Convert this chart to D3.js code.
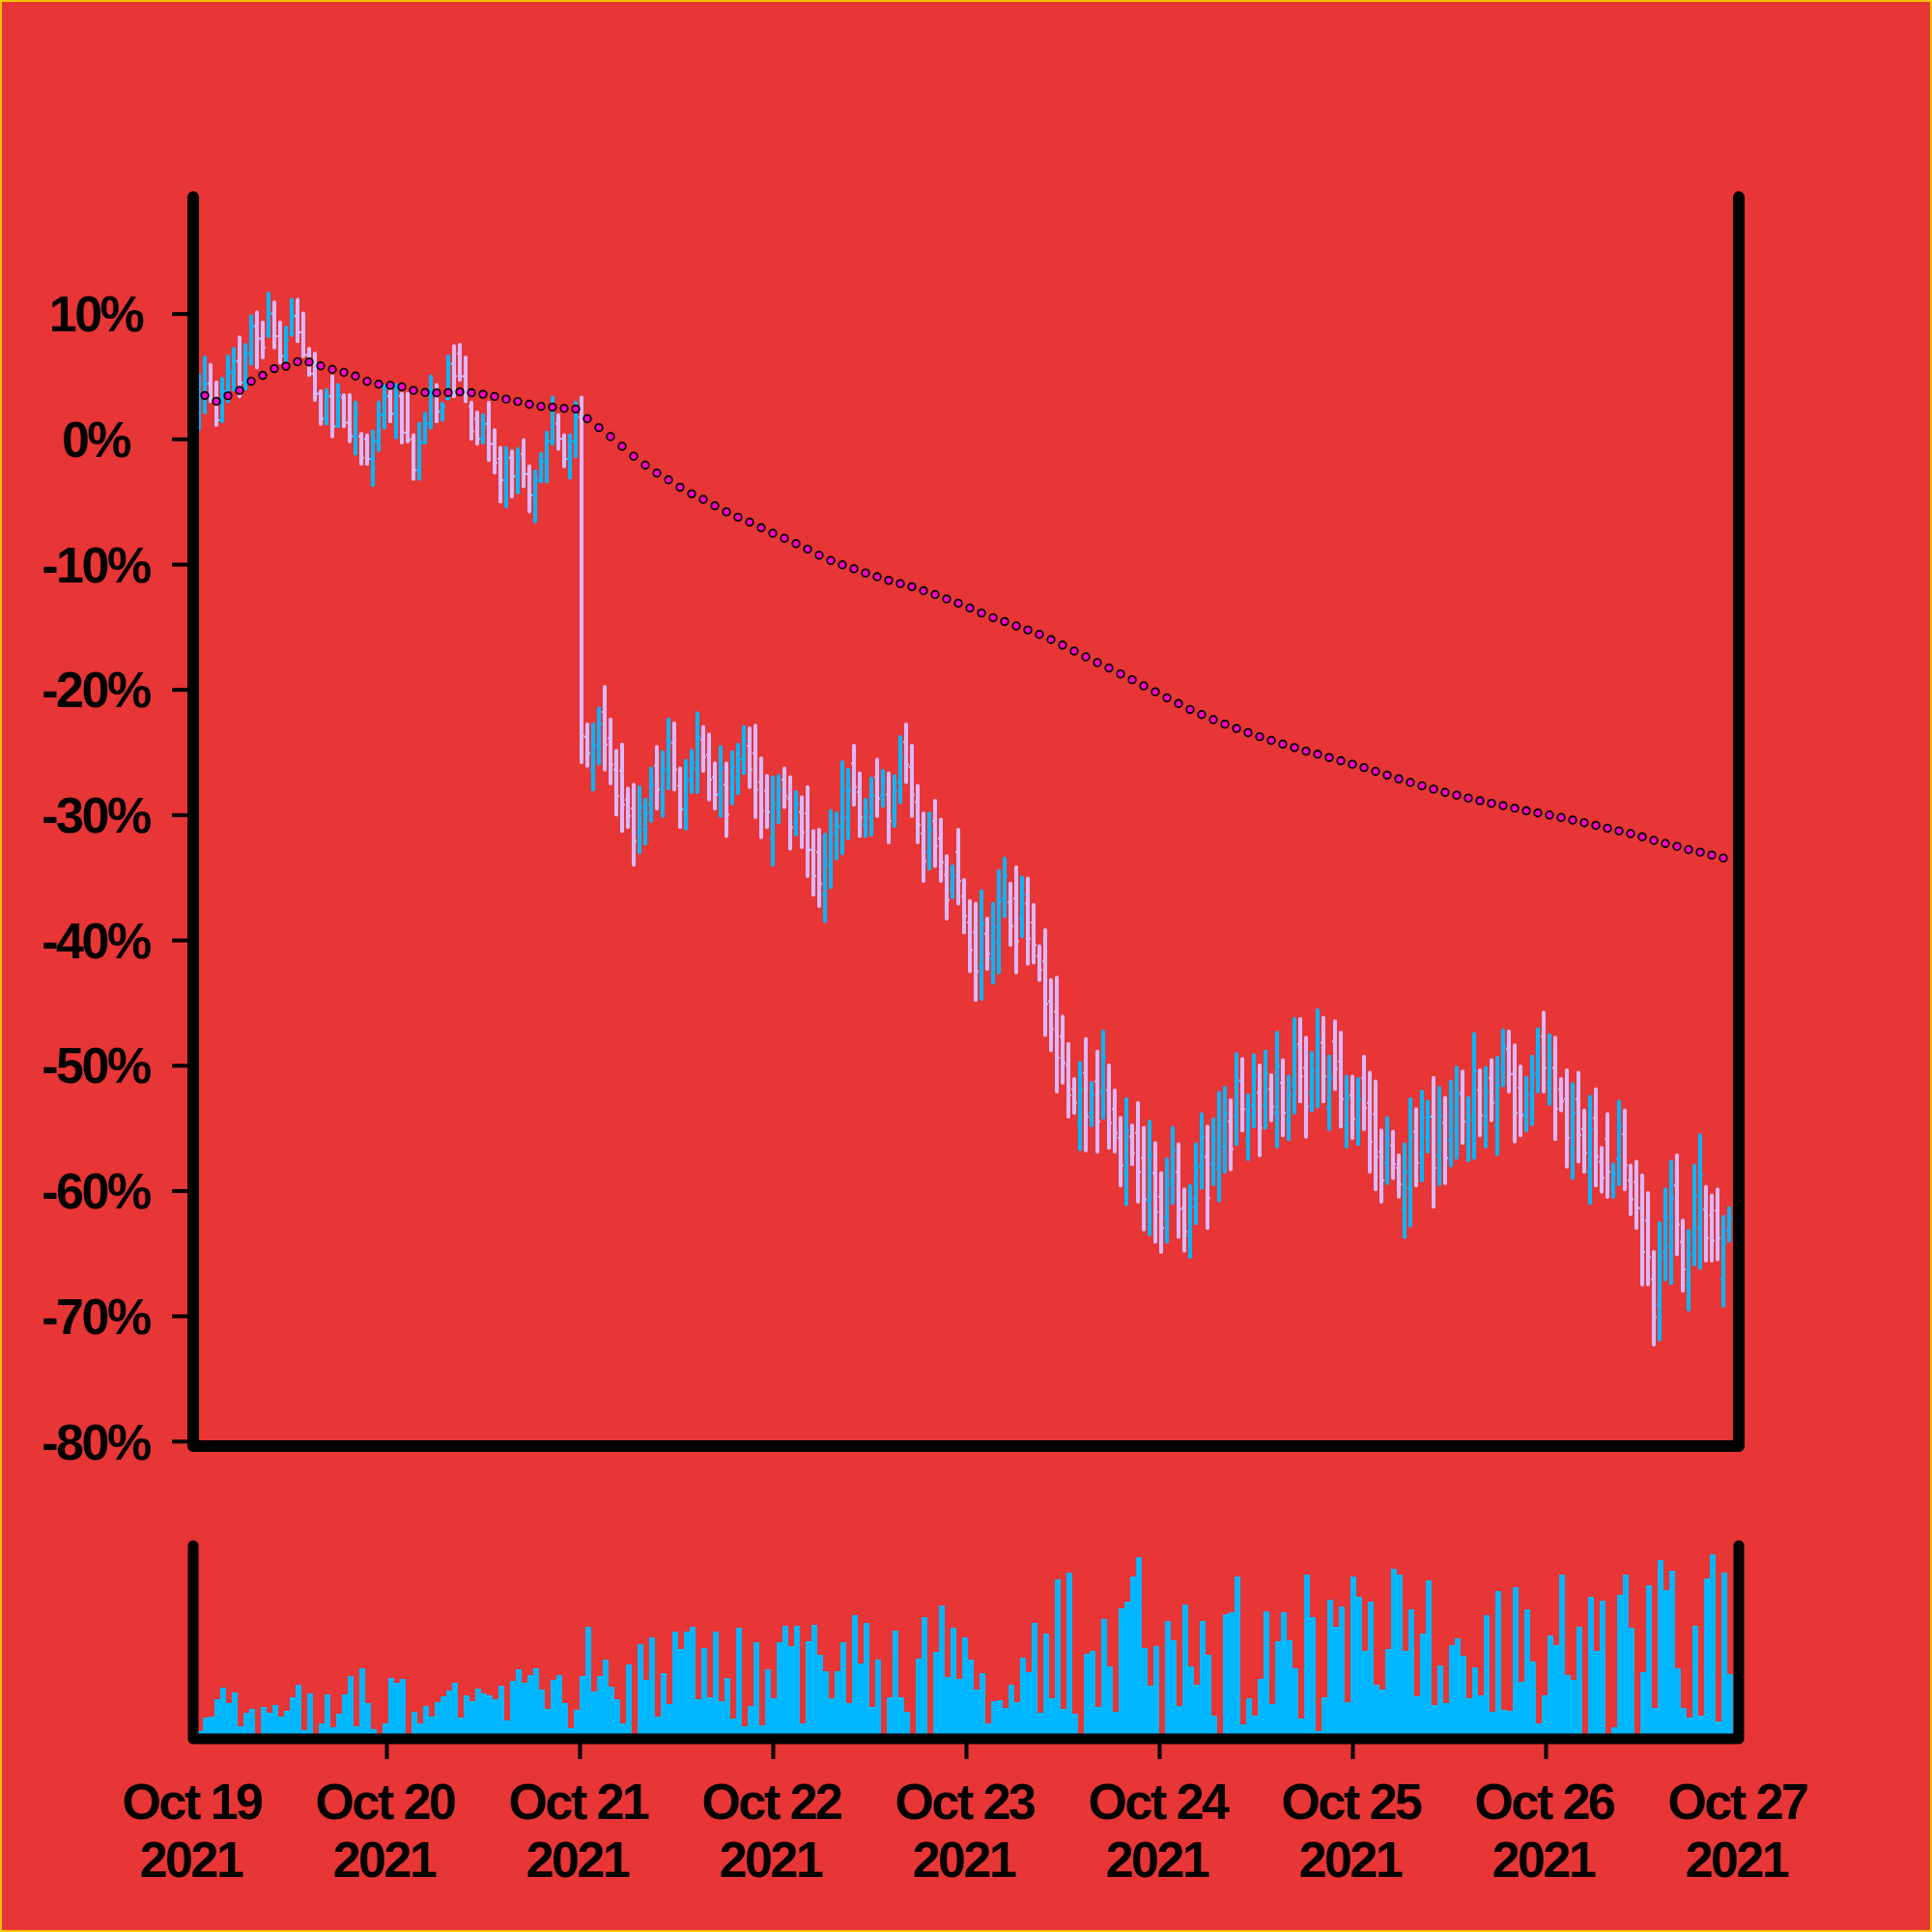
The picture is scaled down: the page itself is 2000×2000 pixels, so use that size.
<!DOCTYPE html>
<html>
<head>
<meta charset="utf-8">
<script src="https://cdn.jsdelivr.net/npm/d3@7"></script>
<style>
  html, body { margin: 0; padding: 0; background: #e83535; }
  svg { display: block; }
  text { font-family: "Liberation Sans", Arial, Helvetica, sans-serif; font-weight: bold; }
</style>
</head>
<body>
<svg id="chart" width="2000" height="2000"></svg>
<script>
// ---------------- DATA (percent change) ----------------
const seriesStart = Date.UTC(2021, 9, 19, 0, 0);   // Oct 19 2021
const barMinutes = 43.2;                           // spacing of the bars

const open = [
  2.0, 2.6, 3.4, 4.4, 3.1, 1.5, 3.8, 5.3, 6.2, 4.5,
  6.8, 9.0, 8.0, 8.4, 10.0, 8.2, 6.6, 8.4, 9.8, 8.5,
  6.7, 5.2, 3.6, 1.6, 3.4, 1.0, 3.3, 1.3, 0.2, 0.2,
  0.0, -1.6, -0.2, 1.9, 3.4, 2.0, 3.4, 0.5, 0.0, -2.5,
  -0.3, 1.2, 3.8, 2.2, 3.2, 6.0, 6.8, 5.0, 2.6, 1.6,
  0.0, 1.2, -0.4, -1.6, -3.3, -1.5, -3.0, -1.2, -2.8, -4.5,
  -3.3, -1.8, -0.2, 1.2, 0.0, -1.6, -0.2, 1.7,
  -23.8, -26.4, -24.6, -21.8, -23.9, -26.4, -26.5, -28.8, -29.5, -31.4, -31.2, -29.2,
  -26.1, -28.6, -26.3, -24.3, -27.7, -29.5, -27.2, -26.3, -24.0, -25.2,
  -27.0, -28.4, -27.6, -27.9, -27.1, -25.6, -24.5, -25.1, -27.4, -28.1,
  -31.9, -29.5, -27.2, -28.7, -30.6, -29.8, -29.9, -32.8, -33.0, -36.4,
  -34.0, -32.4, -30.9, -30.2, -25.9, -28.2, -30.8, -30.2, -27.0, -28.5,
  -28.4, -29.7, -27.4, -24.2, -26.2, -29.0, -31.5, -33.0, -30.5, -31.9,
  -34.8, -35.9, -33.0, -36.5, -38.6, -39.4, -42.1, -39.5, -41.5, -40.2,
  -36.7, -37.0, -36.7, -38.3, -37.1, -38.6, -41.3, -41.7, -44.9, -45.7,
  -47.7, -50.0, -51.9, -54.6, -50.6, -53.8, -51.3, -52.1, -52.0, -53.5,
  -55.8, -58.6, -55.7, -55.4, -57.4, -60.8, -58.6, -60.5, -62.1, -59.2,
  -58.5, -61.4, -63.6, -60.7, -58.0, -57.3, -57.9, -58.2, -56.5, -54.5,
  -54.1, -51.2, -56.0, -53.2, -52.2, -53.2, -51.9, -53.8, -51.4, -54.4,
  -51.6, -48.3, -50.2, -52.2, -51.0, -48.2, -53.4, -48.1, -49.7, -54.8,
  -52.4, -54.7, -51.0, -53.0, -53.9, -56.9, -57.8, -56.4, -58.2, -61.5,
  -59.8, -55.3, -57.1, -55.7, -54.1, -57.2, -54.6, -56.0, -55.2, -52.2,
  -56.1, -54.4, -52.0, -54.6, -51.0, -54.8, -50.3, -48.7, -50.7, -51.8,
  -53.9, -53.1, -50.6, -47.7, -51.4, -50.2, -51.9, -52.7, -56.7, -52.7,
  -55.1, -58.5, -54.2, -57.7, -55.9, -59.7, -57.5, -55.5, -59.2, -59.3,
  -61.4, -62.4, -67.1, -69.1, -64.9, -64.5, -59.6, -64.1, -67.6, -63.5,
  -63.0, -61.5, -62.0, -61.6, -67.1, -63.2
];

const high = [
  5.0, 5.1, 6.5, 5.9, 4.5, 4.8, 6.6, 7.2, 8.1, 7.5,
  9.8, 10.1, 9.3, 11.6, 10.9, 9.3, 8.9, 11.1, 11.1, 10.0,
  7.2, 6.8, 3.8, 3.9, 5.0, 4.3, 3.5, 3.5, 2.9, 0.4,
  0.3, 0.6, 2.9, 4.2, 4.2, 4.3, 3.6, 3.6, 0.3, 1.2,
  2.0, 5.0, 4.3, 2.8, 6.6, 7.4, 7.5, 6.5, 2.9, 2.1,
  1.9, 2.9, 0.7, -0.7, -0.7, -1.0, -0.8, -0.1, -2.2, -2.6,
  -1.2, 0.5, 3.3, 1.9, 0.3, 0.3, 2.9, 3.3,
  -22.8, -22.8, -21.5, -19.8, -22.4, -24.9, -24.4, -27.9, -27.6, -27.8, -28.8, -26.3,
  -24.6, -25.0, -22.4, -22.7, -26.3, -25.7, -24.9, -21.9, -23.0, -23.6,
  -25.9, -24.6, -25.9, -25.0, -24.4, -23.0, -23.1, -22.9, -25.5, -26.9,
  -27.0, -26.9, -26.3, -27.0, -28.2, -28.6, -27.8, -31.3, -31.2, -31.6,
  -29.7, -29.9, -25.8, -26.4, -24.5, -26.7, -28.8, -27.1, -25.6, -26.5,
  -26.7, -26.9, -23.8, -22.8, -24.5, -27.7, -29.9, -29.9, -28.9, -30.4,
  -33.3, -34.1, -31.2, -35.2, -36.9, -37.1, -36.1, -38.3, -37.1, -34.5,
  -33.5, -35.5, -34.2, -35.0, -35.1, -37.2, -40.5, -39.2, -43.2, -43.0,
  -46.1, -48.3, -51.1, -49.8, -47.9, -51.4, -48.9, -47.3, -50.0, -52.0,
  -54.2, -52.7, -54.8, -53.0, -55.0, -54.5, -56.2, -58.6, -57.5, -55.0,
  -56.3, -59.9, -59.6, -56.3, -53.9, -54.9, -54.3, -52.2, -51.8, -52.8,
  -49.1, -49.5, -52.4, -49.2, -50.0, -48.9, -50.8, -47.4, -49.6, -50.9,
  -46.3, -46.3, -47.8, -49.0, -45.6, -46.2, -49.3, -46.5, -47.4, -50.9,
  -50.9, -51.1, -49.3, -50.6, -51.3, -55.2, -54.2, -55.3, -57.2, -56.3,
  -52.7, -53.5, -52.1, -52.9, -51.0, -51.8, -52.6, -51.3, -50.2, -50.5,
  -52.6, -47.5, -50.4, -50.2, -49.6, -49.4, -47.2, -47.3, -48.4, -50.1,
  -51.0, -49.3, -47.1, -45.8, -47.6, -47.8, -51.1, -50.4, -51.5, -50.6,
  -53.6, -52.5, -51.9, -56.6, -53.9, -57.9, -52.9, -53.6, -58.0, -57.7,
  -58.8, -60.2, -64.9, -62.6, -59.9, -57.7, -57.2, -62.4, -63.2, -58.0,
  -55.6, -59.7, -60.4, -59.9, -62.1, -61.4
];

const low = [
  0.7, 0.8, 2.1, 3.0, 1.1, 1.4, 3.0, 3.9, 3.4, 4.0,
  6.0, 5.7, 6.5, 8.2, 7.3, 6.1, 5.9, 8.3, 7.8, 6.6,
  5.1, 3.1, 1.2, 1.2, 0.2, 1.0, 1.0, -0.2, -1.2, -2.0,
  -2.0, -3.7, -0.9, 0.9, 1.4, 0.1, -0.3, -0.2, -3.2, -3.2,
  -0.3, 0.9, 1.4, 1.5, 3.2, 3.4, 4.7, 3.0, 0.0, -0.4,
  -0.3, -1.7, -2.7, -5.0, -5.4, -4.6, -4.3, -3.8, -5.8, -6.6,
  -3.4, -3.4, -0.4, -0.8, -2.2, -3.1, -1.4, -25.8,
  -26.1, -28.0, -25.9, -26.4, -27.5, -30.0, -31.3, -31.0, -34.0, -33.0, -32.3, -30.5,
  -29.5, -30.1, -27.9, -28.0, -31.0, -31.1, -28.2, -28.2, -26.5, -28.8,
  -29.5, -30.1, -31.7, -29.1, -28.3, -26.7, -27.8, -30.2, -31.8, -31.0,
  -34.0, -30.6, -29.4, -32.7, -31.6, -32.6, -34.9, -36.4, -37.3, -38.5,
  -35.8, -33.5, -33.1, -31.9, -29.2, -31.7, -31.7, -31.6, -30.1, -29.3,
  -32.2, -30.9, -29.0, -27.4, -30.1, -32.2, -35.3, -34.3, -34.1, -35.3,
  -38.3, -36.6, -37.1, -39.4, -42.5, -44.8, -44.7, -42.3, -43.4, -42.6,
  -38.1, -40.4, -42.6, -39.7, -41.9, -41.8, -43.2, -47.6, -48.8, -52.1,
  -51.4, -54.1, -53.8, -56.7, -56.8, -54.8, -56.9, -54.2, -56.6, -56.9,
  -59.6, -61.1, -57.9, -60.9, -63.1, -63.5, -64.1, -64.9, -64.1, -61.0,
  -63.7, -64.8, -65.3, -62.6, -59.8, -63.0, -59.5, -60.8, -58.5, -58.3,
  -56.3, -55.2, -57.5, -54.9, -57.2, -55.0, -54.4, -56.5, -55.6, -55.9,
  -53.8, -52.9, -55.7, -53.6, -53.3, -52.9, -55.1, -51.9, -54.9, -56.5,
  -55.8, -56.3, -55.1, -58.5, -59.9, -60.9, -59.4, -59.0, -60.5, -63.7,
  -62.8, -59.6, -59.2, -56.9, -61.3, -59.5, -59.4, -58.0, -57.4, -56.2,
  -57.6, -57.4, -55.6, -56.5, -54.4, -57.1, -51.6, -52.1, -56.1, -55.6,
  -55.2, -54.7, -52.1, -52.1, -53.1, -55.9, -53.6, -58.1, -59.0, -57.7,
  -58.5, -61.0, -59.6, -60.1, -60.5, -60.5, -59.5, -59.9, -61.9, -63.0,
  -67.5, -67.5, -72.3, -71.9, -67.1, -67.4, -65.1, -68.0, -69.5, -65.9,
  -66.2, -65.6, -65.6, -65.5, -69.2, -64.0
];

const close = [
  2.6, 3.4, 4.4, 3.1, 1.5, 3.8, 5.3, 6.2, 4.5, 6.8,
  9.0, 8.0, 7.3, 10.0, 8.2, 6.6, 7.9, 9.8, 8.5, 6.7,
  5.2, 3.6, 1.6, 3.4, 1.0, 3.5, 1.3, 0.2, 2.0, -1.5,
  -1.6, -0.2, 1.9, 3.4, 2.0, 3.6, 0.5, -0.1, -2.5, -0.3,
  1.2, 3.8, 2.2, 2.6, 6.0, 5.0, 5.0, 3.5, 0.6, 0.0,
  1.2, -0.4, -1.9, -3.3, -1.5, -3.0, -1.5, -2.8, -4.5, -3.3,
  -1.8, -0.2, 2.3, 0.0, -1.6, -0.2, 1.8, -23.7,
  -25.1, -24.4, -22.8, -24.4, -26.0, -28.5, -29.2, -30.1, -32.1, -29.4, -29.9, -27.6,
  -28.0, -26.5, -24.1, -26.4, -29.6, -27.3, -25.9, -23.8, -25.4, -27.2,
  -28.4, -26.3, -30.0, -26.2, -25.6, -24.1, -26.4, -28.0, -29.7, -29.8,
  -29.1, -28.0, -28.5, -31.0, -29.2, -31.4, -32.8, -34.9, -35.5, -33.7,
  -31.5, -31.0, -28.0, -28.1, -27.8, -30.2, -29.7, -28.5, -28.7, -27.3,
  -30.5, -28.1, -25.4, -26.0, -28.4, -30.8, -33.7, -31.2, -32.5, -33.8,
  -36.8, -34.9, -35.3, -38.1, -40.8, -42.5, -38.7, -41.1, -39.0, -36.9,
  -34.9, -38.9, -40.1, -36.4, -39.9, -40.4, -42.4, -45.1, -47.1, -49.4,
  -49.8, -52.4, -53.0, -51.9, -54.1, -52.4, -54.5, -49.4, -54.6, -55.4,
  -58.0, -55.2, -57.0, -58.5, -60.7, -57.2, -61.7, -63.0, -59.5, -56.8,
  -61.5, -63.3, -61.3, -58.2, -55.7, -60.6, -55.9, -54.8, -53.8, -56.7,
  -51.3, -53.5, -53.9, -50.9, -55.0, -50.7, -53.3, -50.1, -53.8, -52.4,
  -48.6, -50.9, -53.3, -50.4, -47.9, -50.9, -51.0, -50.3, -52.7, -52.6,
  -54.3, -52.7, -53.4, -56.1, -57.3, -59.2, -55.8, -57.9, -59.5, -58.5,
  -55.7, -57.8, -54.2, -54.1, -58.2, -54.1, -57.4, -53.3, -52.4, -54.5,
  -54.1, -50.5, -54.0, -52.1, -53.0, -51.7, -48.5, -50.7, -53.8, -54.0,
  -52.3, -50.9, -48.6, -50.2, -49.3, -53.5, -52.9, -55.8, -53.8, -55.6,
  -57.0, -55.1, -57.3, -59.0, -58.5, -58.7, -54.9, -58.0, -60.7, -61.4,
  -64.9, -65.3, -70.1, -65.4, -62.1, -60.6, -62.7, -66.3, -65.1, -60.4,
  -58.8, -63.8, -64.0, -63.8, -64.2, -62.2
];

const volume = [
  10, 8, 22, 23, 41, 53, 37, 48, 13, 27,
  31, 0, 33, 27, 35, 23, 29, 43, 56, 9,
  47, 0, 16, 46, 12, 26, 46, 65, 13, 73,
  37, 10, 0, 16, 63, 58, 62, 0, 28, 16,
  34, 23, 38, 44, 50, 58, 22, 45, 39, 52,
  47, 45, 41, 55, 19, 60, 72, 58, 66, 73,
  51, 31, 61, 66, 37, 11, 30, 65, 116, 49,
  65, 82, 54, 41, 16, 77, 0, 98, 61, 105,
  23, 68, 36, 111, 93, 111, 116, 41, 94, 43,
  111, 39, 63, 21, 115, 13, 34, 100, 14, 72,
  42, 100, 117, 96, 117, 16, 101, 118, 87, 70,
  42, 70, 100, 37, 128, 78, 120, 33, 82, 0,
  43, 112, 43, 28, 0, 83, 126, 0, 90, 138,
  64, 115, 62, 105, 82, 51, 68, 16, 39, 40,
  32, 56, 38, 84, 69, 120, 27, 109, 42, 165,
  31, 172, 26, 0, 88, 91, 33, 124, 75, 28,
  135, 142, 168, 188, 94, 55, 96, 0, 122, 102,
  34, 139, 75, 56, 122, 87, 24, 0, 129, 131,
  168, 15, 42, 24, 62, 132, 36, 101, 131, 102,
  73, 21, 170, 126, 8, 43, 144, 116, 137, 38,
  168, 147, 91, 142, 56, 51, 93, 176, 170, 91,
  134, 44, 109, 164, 35, 76, 37, 97, 104, 86,
  42, 74, 45, 128, 28, 153, 30, 29, 157, 59,
  134, 80, 16, 45, 107, 97, 170, 66, 61, 116,
  0, 147, 91, 143, 0, 12, 149, 170, 115, 0,
  69, 159, 32, 185, 154, 174, 73, 32, 22, 117,
  24, 166, 191, 18, 172, 67
];

const yTicks = [10, 0, -10, -20, -30, -40, -50, -60, -70, -80];
const xTickDates = ["2021-10-19", "2021-10-20", "2021-10-21", "2021-10-22", "2021-10-23",
                    "2021-10-24", "2021-10-25", "2021-10-26", "2021-10-27"];
const xTickMonthDay = ["Oct 19", "Oct 20", "Oct 21", "Oct 22", "Oct 23", "Oct 24", "Oct 25", "Oct 26", "Oct 27"];
const xTickYear = ["2021", "2021", "2021", "2021", "2021", "2021", "2021", "2021", "2021"];

// ---------------- STYLE ----------------
const BG = "#e83535";
const UP = "#00b7ff";
const DOWN = "#d8b9ff";
const VOL = "#00b7ff";
const DOT = "#ff00c8";
const INK = "#000000";

// ---------------- BUILD ----------------
const svg = d3.select("#chart");
svg.append("rect").attr("width", 2000).attr("height", 2000).attr("fill", BG);
svg.append("rect").attr("x", 1).attr("y", 1).attr("width", 1998).attr("height", 1998)
  .attr("fill", "none").attr("stroke", "#f5c400").attr("stroke-width", 2);

const times = open.map((_, i) => new Date(seriesStart + i * barMinutes * 60000));
const bars = open.map((o, i) => ({ t: times[i], o, h: high[i], l: low[i], c: close[i], v: volume[i] }));
const cum = d3.cumsum(close);
const avg = bars.map((b, i) => ({ t: b.t, v: cum[i] / (i + 1) }));

const x = d3.scaleUtc()
  .domain([new Date(xTickDates[0] + "T00:00:00Z"), new Date(xTickDates[xTickDates.length - 1] + "T00:00:00Z")])
  .range([200, 1800]);
const y = d3.scaleLinear().domain([-80.4, 19.3]).range([1497, 204]);
const yv = d3.scaleLinear().domain([0, 200]).range([1800, 1600]);

// volume bars
svg.append("g").selectAll("rect").data(bars).join("rect")
  .attr("x", d => x(d.t) - 2)
  .attr("width", 6)
  .attr("y", d => yv(d.v))
  .attr("height", d => yv(0) - yv(d.v))
  .attr("fill", VOL);

// OHLC bars
const gOhlc = svg.append("g");
const colorOf = d => (d.c >= d.o ? UP : DOWN);
gOhlc.selectAll("line.hl").data(bars).join("line").attr("class", "hl")
  .attr("x1", d => x(d.t)).attr("x2", d => x(d.t))
  .attr("y1", d => y(d.h)).attr("y2", d => y(d.l))
  .attr("stroke", colorOf).attr("stroke-width", 4).attr("stroke-linecap", "round");
gOhlc.selectAll("line.op").data(bars).join("line").attr("class", "op")
  .attr("x1", d => x(d.t) - 3).attr("x2", d => x(d.t))
  .attr("y1", d => y(d.o)).attr("y2", d => y(d.o))
  .attr("stroke", colorOf).attr("stroke-width", 2);
gOhlc.selectAll("line.cl").data(bars).join("line").attr("class", "cl")
  .attr("x1", d => x(d.t)).attr("x2", d => x(d.t) + 3)
  .attr("y1", d => y(d.c)).attr("y2", d => y(d.c))
  .attr("stroke", colorOf).attr("stroke-width", 2);

// running average dots (every other bar)
svg.append("g").selectAll("circle").data(avg.filter((d, i) => i % 2 === 0)).join("circle")
  .attr("cx", d => x(d.t)).attr("cy", d => y(d.v)).attr("r", 3.8)
  .attr("fill", DOT).attr("stroke", INK).attr("stroke-width", 1.8);

// frames
const [x0, x1] = x.range();
svg.append("path")
  .attr("d", `M${x0},${y.range()[1]}V${y.range()[0]}H${x1}V${y.range()[1]}`)
  .attr("fill", "none").attr("stroke", INK).attr("stroke-width", 12)
  .attr("stroke-linecap", "round").attr("stroke-linejoin", "round");
svg.append("path")
  .attr("d", `M${x0},${yv.range()[1]}V${yv.range()[0]}H${x1}V${yv.range()[1]}`)
  .attr("fill", "none").attr("stroke", INK).attr("stroke-width", 11)
  .attr("stroke-linecap", "round").attr("stroke-linejoin", "round");

// y axis
const yAxis = svg.append("g").attr("transform", `translate(${x0 - 6},0)`)
  .call(d3.axisLeft(y).tickValues(yTicks).tickSize(16).tickFormat(d => d + "%"));
yAxis.select(".domain").remove();
yAxis.selectAll(".tick line").attr("stroke", INK).attr("stroke-width", 4);
yAxis.selectAll(".tick text")
  .attr("x", 99 - (x0 - 6)).attr("dy", "0.35em")
  .attr("text-anchor", "middle").attr("fill", INK)
  .style("font-size", "52px").style("letter-spacing", "-2.5px");

// x axis
const xDates = xTickDates.map(s => new Date(s + "T00:00:00Z"));
const xAxis = svg.append("g").attr("transform", `translate(0,${yv.range()[0] + 5})`)
  .call(d3.axisBottom(x).tickValues(xDates).tickSize(16).tickFormat(() => ""));
xAxis.select(".domain").remove();
xAxis.selectAll(".tick line").attr("stroke", INK).attr("stroke-width", 4)
  .attr("display", (d, i) => (i === 0 || i === xDates.length - 1) ? "none" : null);
xAxis.selectAll(".tick text").each(function (d, i) {
  const t = d3.select(this).attr("y", null).attr("dy", null)
    .attr("text-anchor", "middle").attr("fill", INK)
    .style("font-size", "52px").style("letter-spacing", "-2.5px");
  t.append("tspan").attr("x", -2).attr("y", 78).text(xTickMonthDay[i]);
  t.append("tspan").attr("x", -3).attr("y", 138).text(xTickYear[i]);
});
</script>
</body>
</html>
